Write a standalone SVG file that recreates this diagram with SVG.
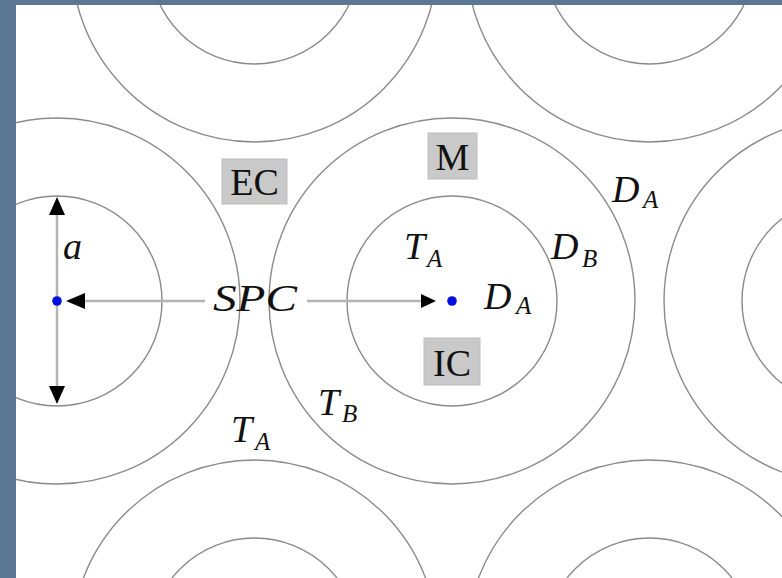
<svg xmlns="http://www.w3.org/2000/svg" width="782" height="578" viewBox="0 0 782 578">
<style>
.c{fill:none;stroke:#8a8a8a;stroke-width:1.4}
.ln{stroke:#b4b4b4;stroke-width:2.5;fill:none}
.ah{fill:#000}
.dot{fill:#0010e0}
.box{fill:#c9c9c9;stroke:#bdbdbd;stroke-width:1}
.bt{font-family:"Liberation Serif",serif;font-size:38px;fill:#111}
.it{font-family:"Liberation Serif",serif;font-style:italic;font-size:38px;fill:#111}
.sub{font-family:"Liberation Serif",serif;font-style:italic;font-size:25px;fill:#111}
</style>
<rect x="0" y="0" width="782" height="578" fill="#ffffff"/>
<g id="cells">
<g id="cell-center"><circle class="c" cx="452" cy="301" r="183"/><circle class="c" cx="452" cy="301" r="105"/></g>
<g id="cell-left"><circle class="c" cx="57" cy="301" r="183"/><circle class="c" cx="57" cy="301" r="105"/></g>
<g id="cell-right"><circle class="c" cx="847" cy="301" r="183"/><circle class="c" cx="847" cy="301" r="105"/></g>
<g id="cell-top-left"><circle class="c" cx="254.5" cy="-41" r="183"/><circle class="c" cx="254.5" cy="-41" r="105"/></g>
<g id="cell-top-right"><circle class="c" cx="649.5" cy="-41" r="183"/><circle class="c" cx="649.5" cy="-41" r="105"/></g>
<g id="cell-bottom-left"><circle class="c" cx="254.5" cy="643" r="183"/><circle class="c" cx="254.5" cy="643" r="105"/></g>
<g id="cell-bottom-right"><circle class="c" cx="649.5" cy="643" r="183"/><circle class="c" cx="649.5" cy="643" r="105"/></g>
</g>
<g id="connectors">
<line class="ln" x1="57" y1="212" x2="57" y2="390"/>
<polygon class="ah" points="57,197 49,215 65,215"/>
<polygon class="ah" points="57,404 49,386 65,386"/>
<line class="ln" x1="82" y1="301" x2="205" y2="301"/>
<polygon class="ah" points="66,301 85,293 85,309"/>
<line class="ln" x1="307" y1="301" x2="426" y2="301"/>
<polygon class="ah" points="436,301 421,294 421,308"/>
</g>
<g id="dots">
<circle class="dot" cx="57" cy="301" r="4.8"/>
<circle class="dot" cx="452" cy="301" r="4.8"/>
</g>
<g id="label-EC"><rect class="box" x="222" y="159" width="65" height="45"/><text class="bt" x="254.5" y="195" text-anchor="middle">EC</text></g>
<g id="label-M"><rect class="box" x="428" y="133" width="49" height="46"/><text class="bt" x="452.5" y="170" text-anchor="middle">M</text></g>
<g id="label-IC"><rect class="box" x="424" y="338" width="56" height="47"/><text class="bt" x="452" y="376" text-anchor="middle">IC</text></g>
<g id="label-a"><text class="it" x="63" y="259">a</text></g>
<g id="label-SPC"><text class="it" x="213" y="311" textLength="84" lengthAdjust="spacingAndGlyphs">SPC</text></g>
<g id="label-TA-inner"><text class="it" x="404" y="259">T</text><text class="sub" x="427" y="267">A</text></g>
<g id="label-DB"><text class="it" x="551" y="259">D</text><text class="sub" x="582" y="267">B</text></g>
<g id="label-DA-center"><text class="it" x="484" y="309">D</text><text class="sub" x="516" y="314">A</text></g>
<g id="label-DA-outer"><text class="it" x="612" y="202">D</text><text class="sub" x="643" y="208">A</text></g>
<g id="label-TB"><text class="it" x="318" y="415">T</text><text class="sub" x="342" y="422">B</text></g>
<g id="label-TA-outer"><text class="it" x="231" y="442">T</text><text class="sub" x="255" y="450">A</text></g>
<path id="frame" d="M0 0H782V5H16V578H0Z" fill="#5b7793"/>
</svg>
